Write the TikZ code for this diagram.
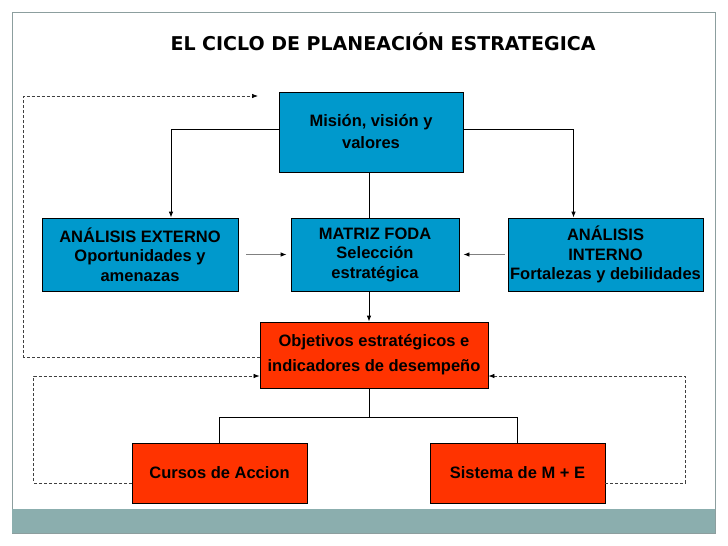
\documentclass[tikz,border=0pt]{standalone}
\usepackage{fontspec}
\setmainfont{Liberation Sans}
\newfontfamily\titlefont{DejaVu Sans}
\usetikzlibrary{arrows.meta}

\begin{document}
\begin{tikzpicture}[x=1pt, y=-1pt,
    box/.style={draw=black, line width=0.8pt, align=center, inner sep=0pt,
        font=\fontsize{16.5}{19.5}\selectfont\bfseries},
    blueBox/.style={box, fill=boxBlue},
    redBox/.style={box, fill=boxRed},
    link/.style={line width=0.8pt},
    linkArrow/.style={link, -{Latex[length=6pt,width=4.5pt]}},
    sideArrow/.style={link, draw=black!50, -{Latex[length=6pt,width=4.5pt,color=black]}},
    feedback/.style={line width=0.7pt, draw=black!75, dash pattern=on 3pt off 2pt,
        -{Latex[length=6pt,width=4.5pt,color=black]}}]
    \definecolor{boxBlue}{HTML}{0099CC}
    \definecolor{boxRed}{HTML}{FF3300}
    \definecolor{frameGrey}{HTML}{8C9E9E}
    \definecolor{barGrey}{HTML}{8BAEAE}

    \useasboundingbox (0,0) rectangle (728,546);

    % Slide frame
    \draw[frameGrey, line width=1pt] (12,12) rectangle (715,533);
    \fill[barGrey] (12,509) rectangle (715,533);

    % Title
    \node[font=\titlefont\fontsize{19}{22}\selectfont\bfseries] (title) at (383,42)
        {EL CICLO DE PLANEACIÓN ESTRATEGICA};

    % Boxes
    \node[blueBox, minimum width=184pt, minimum height=80pt,
        font=\fontsize{16.5}{22}\selectfont\bfseries] (mision) at (371,132)
        {Misión, visión y\\valores};
    \node[blueBox, minimum width=196pt, minimum height=73pt] (externo) at (140,254.5)
        {ANÁLISIS EXTERNO\\Oportunidades y\\amenazas};
    \node[blueBox, minimum width=168pt, minimum height=73pt] (foda) at (375,254.5)
        {MATRIZ FODA\\Selección\\estratégica};
    \node[blueBox, minimum width=195pt, minimum height=73pt] (interno) at (605.5,254.5)
        {ANÁLISIS\\INTERNO\\Fortalezas y debilidades};
    \node[redBox, minimum width=228pt, minimum height=66pt,
        font=\fontsize{16.5}{25}\selectfont\bfseries] (objetivos) at (374,355)
        {Objetivos estratégicos e\\indicadores de desempeño};
    \node[redBox, minimum width=175pt, minimum height=60pt] (cursos) at (219.5,473)
        {Cursos de Accion};
    \node[redBox, minimum width=175pt, minimum height=60pt] (sistema) at (517.5,473)
        {Sistema de M + E};

    % Connectors
    \coordinate (axis) at (369,0);
    \draw[linkArrow] ([yshift=3pt]mision.west) -| ([xshift=31pt]externo.north);
    \draw[linkArrow] ([yshift=3pt]mision.east) -| ([xshift=-32pt]interno.north);
    \draw[link] (mision.south -| axis) -- (foda.north -| axis);
    \draw[sideArrow] ([xshift=8pt]externo.east) -- ([xshift=-4pt]foda.west);
    \draw[sideArrow] ([xshift=-3pt]interno.west) -- ([xshift=4pt]foda.east);
    \draw[linkArrow] (foda.south -| axis) -- (objetivos.north -| axis);
    \draw[link] (objetivos.south -| axis) -- ++(0,29) coordinate (split);
    \draw[link] (split) -| (cursos.north);
    \draw[link] (split) -| (sistema.north);

    % Feedback loops
    \coordinate (misionIn) at (258,96);
    \draw[feedback] ([yshift=-2pt]objetivos.west) -- ++(-236,0) |- (misionIn);
    \draw[feedback] ([yshift=-10pt]cursos.west) -- ++(-98,0) |- ([yshift=-21pt]objetivos.west);
    \draw[feedback] ([yshift=-10pt]sistema.east) -- ++(80,0) |- ([yshift=-21pt]objetivos.east);

\end{tikzpicture}
\end{document}
